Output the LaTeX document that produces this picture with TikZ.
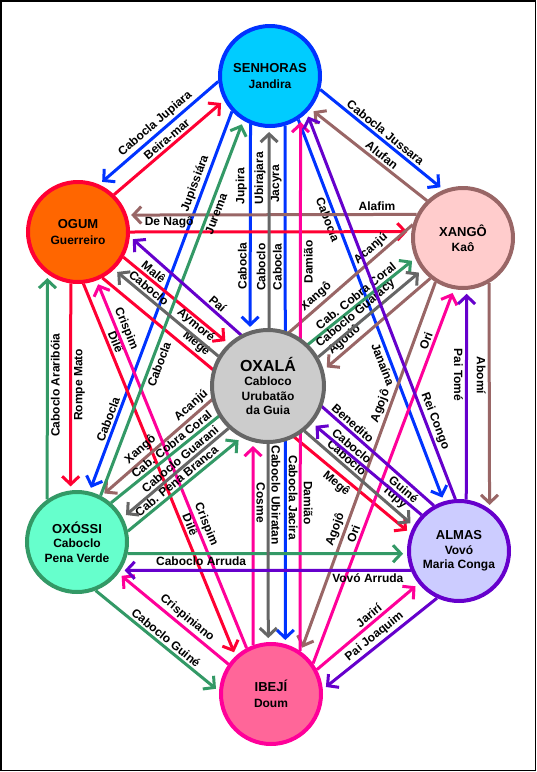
\documentclass[tikz,border=0pt]{standalone}
\usepackage{fontspec}
\setmainfont{Liberation Sans}
\usetikzlibrary{arrows.meta,backgrounds}
\definecolor{cS}{HTML}{0033FF}\definecolor{fS}{HTML}{00CCFF}
\definecolor{cG}{HTML}{FF0033}\definecolor{fG}{HTML}{FF6600}
\definecolor{cX}{HTML}{996666}\definecolor{fX}{HTML}{FFCCCC}
\definecolor{cO}{HTML}{666666}\definecolor{fO}{HTML}{CCCCCC}
\definecolor{cV}{HTML}{339966}\definecolor{fV}{HTML}{66FFCC}
\definecolor{cA}{HTML}{6600CC}\definecolor{fA}{HTML}{CCCCFF}
\definecolor{cI}{HTML}{FF0099}\definecolor{fI}{HTML}{FF6699}
\newcommand\orxtitle{\fontsize{13}{15}\selectfont}
\newcommand\orxbig{\fontsize{16}{18}\selectfont}
\begin{document}
\begin{tikzpicture}[x=1pt,y=-1pt,
  orix/.style={circle, draw, line width=4pt, inner sep=0pt, outer sep=2pt,
    minimum size=100pt, align=center, font=\bfseries\fontsize{12}{14.5}\selectfont},
  bigorix/.style={minimum size=112pt},
  link/.style={line width=3pt, -{Straight Barb[length=8pt,width=17pt]}, shorten >=4pt},
  lbl/.style={font=\bfseries\fontsize{12}{14}\selectfont, inner sep=2pt, text=black},
  sl/.style={lbl, sloped},
  up/.style={lbl, rotate=90},
  dn/.style={lbl, rotate=-90}]
\useasboundingbox (0,0) rectangle (537,772);
\node[orix, draw=cS, fill=fS] (SEN) at (270,76) {{\orxtitle SENHORAS}\\[1pt]Jandira};
\node[orix, draw=cG, fill=fG] (OGUM) at (78,232) {{\orxtitle OGUM}\\[1pt]Guerreiro};
\node[orix, draw=cX, fill=fX] (XAN) at (463,238) {{\orxtitle XANGÔ}\\[1pt]Kaô};
\node[orix, bigorix, draw=cO, fill=fO] (OXA) at (268,386) {{\orxbig OXALÁ}\\Cabloco\\Urubatão\\da Guia};
\node[orix, draw=cV, fill=fV] (OXO) at (77,542) {{\orxtitle OXÓSSI}\\Caboclo\\Pena Verde};
\node[orix, draw=cA, fill=fA] (ALM) at (459,551) {{\orxtitle ALMAS}\\Vovó\\Maria Conga};
\node[orix, draw=cI, fill=fI] (IBE) at (271,694) {{\orxtitle IBEJÍ}\\[1pt]Doum};
\begin{scope}[on background layer]
\fill[white] (0,0) rectangle (537,772);
% SENHORAS
\draw[link, draw=cS] (SEN.186.6) -- node[sl, pos=.478, above]{Cabocla Jupiara} (OGUM.66.3);
\draw[link, draw=cS] (SEN.-15.6) -- node[sl, pos=.49, above]{Cabocla Jussara} (XAN.112);
\draw[link, draw=cS] (SEN.223.5) -- node[sl, pos=.198, above]{Jupissiára} node[sl, pos=.818, above]{Cabocla} (OXO.76.5);
\draw[link, draw=cS] (SEN.-112.6) -- node[up, pos=.30, anchor=south]{Jupira} node[up, pos=.687, anchor=south]{Cabocla} (OXA.108);
\draw[link, draw=cS] (SEN.-73.2) -- node[up, pos=.112, anchor=south]{Jacyra} node[up, pos=.272, anchor=south]{Cabocla} node[dn, pos=.718, anchor=south]{Cabocla Jacira} (IBE.74.4);
\draw[link, draw=cS] (SEN.-57.8) -- node[sl, pos=.254, below]{Cabocla} node[sl, pos=.634, below]{Janaína} (ALM.107.2);
% OGUM
\draw[link, draw=cG] (OGUM.46.5) -- node[sl, pos=.525, above]{Beira-mar} (SEN.208.9);
\draw[link, draw=cG] (OGUM.0) -- node[lbl, pos=.139, above]{De Nagô} (XAN.173.4);
\draw[link, draw=cG] (OGUM.-98.85) -- node[up, pos=.49, anchor=north]{Rompe Mato} (OXO.97.74);
\draw[link, draw=cG] (OGUM.-29) -- node[sl, pos=.24, above]{Malê} (OXA.133);
\draw[link, draw=cG] (OGUM.-84.5) -- node[sl, pos=.165, above]{Dilê} node[sl, pos=.655, above]{Dilê} (IBE.133.6);
\draw[link, draw=cG] (OGUM.-62.5) -- node[sl, pos=.286, above]{Megê} node[sl, pos=.779, below]{Megê} (ALM.160.2);
% XANGO
\draw[link, draw=cX] (XAN.134.3) -- node[sl, pos=.428, above]{Alufan} (SEN.-39.7);
\draw[link, draw=cX] (XAN.153.75) -- node[lbl, pos=.137, above]{Alafim} (OGUM.19.08);
\draw[link, draw=cX] (XAN.-60) -- node[dn, pos=.41, anchor=north]{Abomí} (ALM.54.8);
\draw[link, draw=cX] (XAN.231.7) -- node[sl, pos=.75, above]{Agodô} (OXA.16.7);
\draw[link, draw=cX] (XAN.165.7) -- node[sl, pos=.115, above]{Acanjú} node[sl, pos=.291, above]{Xangô} node[sl, pos=.692, above]{Acanjú} node[sl, pos=.855, above]{Xangô} (OXO.62.2);
\draw[link, draw=cX] (XAN.238.3) -- node[sl, pos=.344, above]{Agojô} node[sl, pos=.679, above]{Agojô} (IBE.55.8);
% IBEJI
\draw[link, draw=cI] (IBE.56.1) -- node[dn, pos=.278, anchor=south]{Damião} node[up, pos=.73, anchor=north]{Damião} (SEN.-54.8);
\draw[link, draw=cI] (IBE.110.25) -- node[dn, pos=.70, anchor=south]{Cosme} (OXA.-105);
\draw[link, draw=cI] (IBE.118) -- node[sl, pos=.327, above]{Crispim} node[sl, pos=.86, above]{Crispim} (OGUM.-69.5);
\draw[link, draw=cI] (IBE.145.1) -- node[sl, pos=.43, above]{Crispiniano} (OXO.-37.8);
\draw[link, draw=cI] (IBE.36) -- node[sl, pos=.339, above]{Ori} node[sl, pos=.854, above]{Ori} (XAN.-100.7);
\draw[link, draw=cI] (IBE.28) -- node[sl, pos=.56, above]{Jarirí} (ALM.219.3);
% OXOSSI
\draw[link, draw=cV] (OXO.125.2) -- node[up, pos=.507, anchor=north]{Caboclo Araribóia} (OGUM.-126.6);
\draw[link, draw=cV] (OXO.63.4) -- node[sl, pos=.358, below]{Cabocla} node[sl, pos=.759, below]{Jurema} (SEN.239.9);
\draw[link, draw=cV] (OXO.49) -- node[sl, pos=.215, above]{Cab. Cobra Coral} node[sl, pos=.821, above]{Cab. Cobra Coral} (XAN.203.5);
\draw[link, draw=cV] (OXO.12.2) -- node[sl, pos=.472, above]{Cab. Pena Branca} (OXA.243);
\draw[link, draw=cV] (OXO.-13.34) -- node[lbl, pos=.263, below]{Caboclo Arruda} (ALM.183.3);
\draw[link, draw=cV] (OXO.-69.8) -- node[sl, pos=.53, above]{Caboclo Guiné} (IBE.177);
% OXALA
\draw[link, draw=cO] (OXA.89) -- node[up, pos=.305, anchor=south]{Caboclo} node[up, pos=.75, anchor=south]{Ubirajara} (SEN.-91.1);
\draw[link, draw=cO] (OXA.-90) -- node[dn, pos=.258, anchor=south]{Caboclo Ubiratan} (IBE.93.3);
\draw[link, draw=cO] (OXA.149.5) -- node[sl, pos=.273, above]{Aymoré} node[sl, pos=.714, above]{Caboclo} (OGUM.-46.2);
\draw[link, draw=cO] (OXA.30) -- node[sl, pos=.418, above]{Caboclo Guaracy} (XAN.218.5);
\draw[link, draw=cO] (OXA.227.4) -- node[sl, pos=.41, above]{Caboclo Guarani} (OXO.28.6);
\draw[link, draw=cO] (OXA.-51.8) -- node[sl, pos=.342, above]{Caboclo} node[sl, pos=.77, above]{Tupy} (ALM.151.7);
% ALMAS
\draw[link, draw=cA] (ALM.82.26) -- node[dn, pos=.594, anchor=north]{Pai Tomé} (XAN.-86.7);
\draw[link, draw=cA] (ALM.202.62) -- node[lbl, pos=.148, below]{Vovó Arruda} (OXO.-33.9);
\draw[link, draw=cA] (ALM.245.4) -- node[sl, pos=.498, above]{Pai Joaquim} (IBE.5.3);
\draw[link, draw=cA] (ALM.119.9) -- node[sl, pos=.283, above]{Benedito} node[sl, pos=.728, above]{Paí} (OGUM.-5);
\draw[link, draw=cA] (ALM.94) -- node[sl, pos=.194, above]{Rei Congo} (SEN.-45.6);
\draw[link, draw=cA] (ALM.136.5) -- node[sl, pos=.21, above]{Guiné} node[sl, pos=.685, above]{Caboclo} (OXA.-40.7);
\end{scope}
\draw[line width=1.5pt] (1,1) rectangle (535.5,770.5);
\end{tikzpicture}
\end{document}
